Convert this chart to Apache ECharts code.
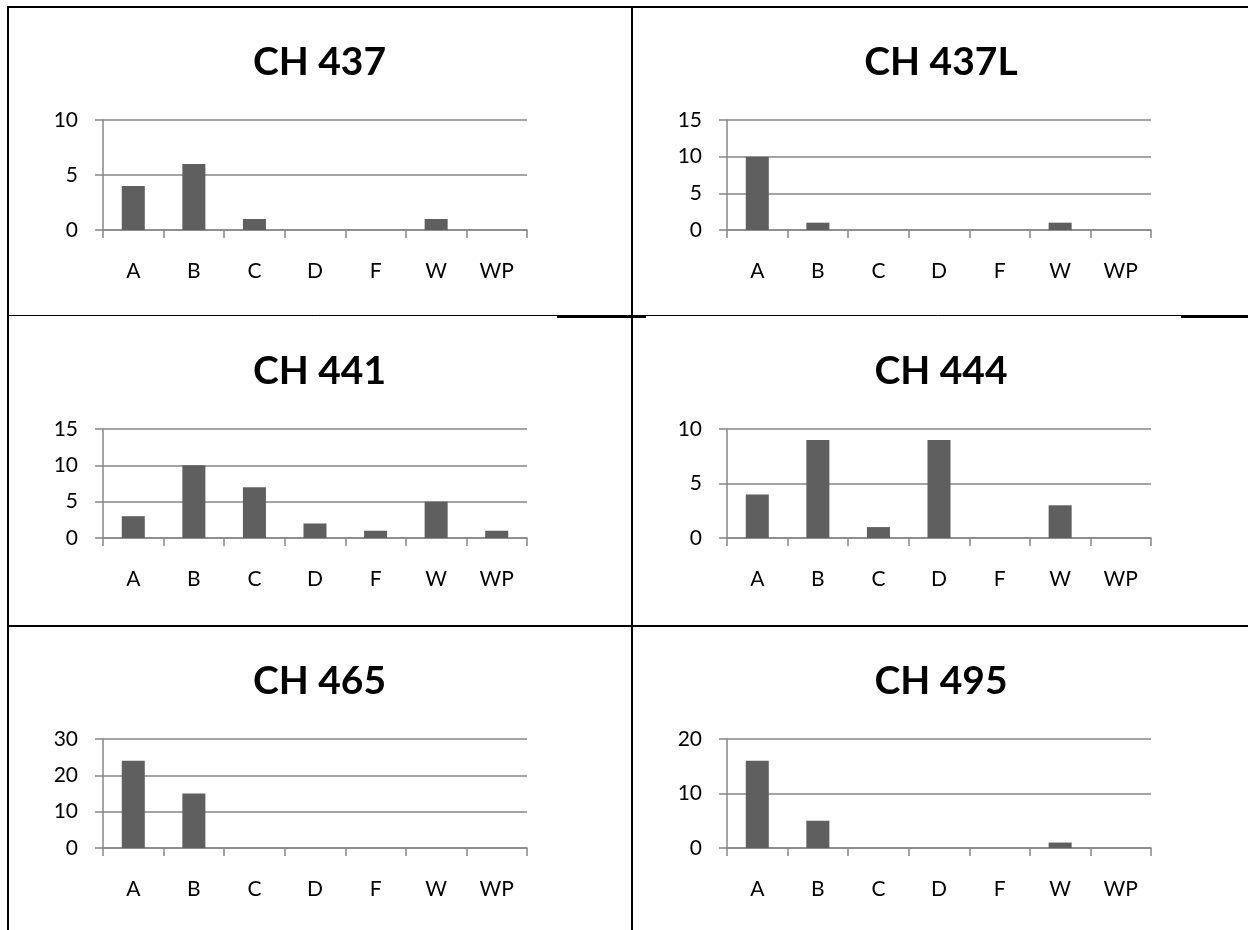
<!DOCTYPE html>
<html>
<head>
<meta charset="utf-8">
<title>Grade distribution by course</title>
<script src="https://cdn.jsdelivr.net/npm/echarts@6/dist/echarts.min.js"></script>
<style>
  html, body { margin: 0; padding: 0; background: #fff; }
  #chart { width: 1248px; height: 930px; }
</style>
</head>
<body>
<div id="chart"></div>
<script>
// Grade categories shared by every panel
const categories = ['A', 'B', 'C', 'D', 'F', 'W', 'WP'];

// Course titles, in panel order (left-to-right, top-to-bottom)
const courseTitles = ['CH 437', 'CH 437L', 'CH 441', 'CH 444', 'CH 465', 'CH 495'];

// Student counts per grade for each course
const ch437  = [4, 6, 1, 0, 0, 1, 0];
const ch437L = [10, 1, 0, 0, 0, 1, 0];
const ch441  = [3, 10, 7, 2, 1, 5, 1];
const ch444  = [4, 9, 1, 9, 0, 3, 0];
const ch465  = [24, 15, 0, 0, 0, 0, 0];
const ch495  = [16, 5, 0, 0, 0, 1, 0];

// Value-axis ranges (max and step) for each panel
const axisMax      = [10, 15, 15, 10, 30, 20];
const axisInterval = [5, 5, 5, 5, 10, 10];

const seriesData = [ch437, ch437L, ch441, ch444, ch465, ch495];

// Panel geometry
const colLeft = [103, 727];
const colCenter = [319.5, 941];
const rowTop = [120, 429, 739];
const rowHeight = [110, 109, 109];
const titleTop = [43, 352, 662];
const plotWidth = 424;

const axisColor = '#868686';
const barColor = '#5f5f5f';
const labelFont = { fontFamily: 'Lato', fontSize: 21, color: '#000' };

const grids = [], xAxes = [], yAxes = [], series = [], titles = [];

seriesData.forEach((values, i) => {
  const col = i % 2, row = Math.floor(i / 2);
  grids.push({
    left: colLeft[col], top: rowTop[row],
    width: plotWidth, height: rowHeight[row],
    containLabel: false
  });
  xAxes.push({
    type: 'category', gridIndex: i, data: categories,
    axisLine: { show: true, lineStyle: { color: axisColor, width: 1.5 } },
    axisTick: { show: true, length: 8, lineStyle: { color: axisColor, width: 1.5 } },
    axisLabel: Object.assign({ margin: 31 }, labelFont),
    splitLine: { show: false }
  });
  yAxes.push({
    type: 'value', gridIndex: i, min: 0, max: axisMax[i], interval: axisInterval[i],
    axisLine: { show: true, lineStyle: { color: axisColor, width: 1.5 } },
    axisTick: { show: true, length: 8, lineStyle: { color: axisColor, width: 1.5 } },
    axisLabel: Object.assign({ margin: 25 }, labelFont),
    splitLine: { show: true, lineStyle: { color: axisColor, width: 1.5 } }
  });
  series.push({
    type: 'bar', name: courseTitles[i], xAxisIndex: i, yAxisIndex: i,
    data: values, barWidth: '38%',
    itemStyle: { color: barColor },
    silent: true
  });
  titles.push({
    text: courseTitles[i],
    left: colCenter[col], top: titleTop[row], textAlign: 'center', padding: 0,
    textStyle: { fontFamily: 'Lato', fontWeight: 'bold', fontSize: 39, color: '#000' }
  });
});

// Table borders framing the six panels
function rule(x1, y1, x2, y2, w) {
  return { type: 'line', silent: true, z: 100,
    shape: { x1: x1, y1: y1, x2: x2, y2: y2 },
    style: { stroke: '#000', lineWidth: w } };
}
const borders = [
  rule(7, 7, 1248, 7, 2),        // top
  rule(8, 6, 8, 930, 2),         // left
  rule(632, 6, 632, 930, 2),     // middle
  rule(7, 315.5, 1248, 315.5, 1),// first row divider
  rule(557, 317, 646, 317, 2),
  rule(1181, 317, 1248, 317, 2),
  rule(7, 626, 1248, 626, 2)     // second row divider
];

const chart = echarts.init(document.getElementById('chart'), null, { renderer: 'canvas' });
chart.setOption({
  animation: false,
  backgroundColor: '#fff',
  title: titles,
  grid: grids,
  xAxis: xAxes,
  yAxis: yAxes,
  series: series,
  graphic: borders
});
</script>
</body>
</html>
